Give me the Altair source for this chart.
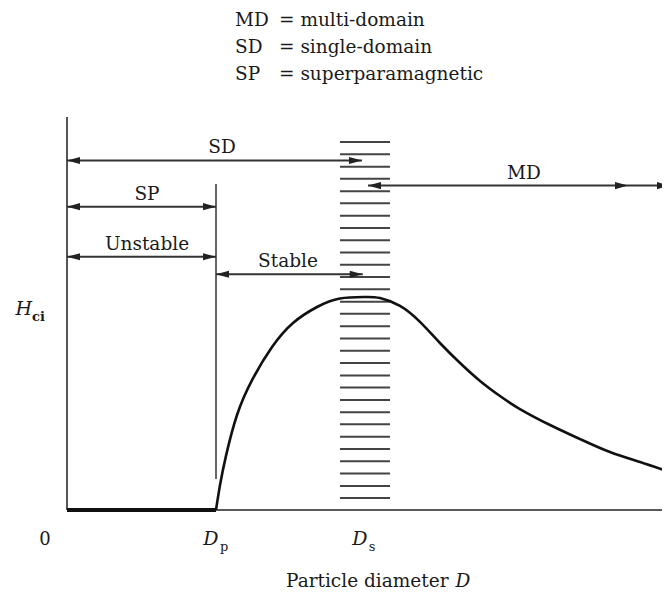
import altair as alt
import pandas as pd

# ---------------- data ----------------
# D in units where D_p = 1 and D_s = 2 ; H in units where the peak of H_ci = 1
D_p = 1.0
D_s = 2.0

flat_D = [0.0, 1.0]
flat_H = [0.0, 0.0]

rise_D = [1.0, 1.027, 1.067, 1.141, 1.242, 1.376, 1.517, 1.678, 1.832, 2.0,
          2.101, 2.235, 2.369, 2.503, 2.638, 2.772, 2.906, 3.04, 3.242, 3.443, 3.644, 3.846, 4.047]
rise_H = [0.0, 0.117, 0.254, 0.446, 0.610, 0.765, 0.878, 0.953, 0.993, 1.0,
          0.995, 0.958, 0.883, 0.784, 0.69, 0.606, 0.535, 0.474, 0.399, 0.333, 0.272, 0.225, 0.178]

axis_top = 1.845
axis_right = 4.047
dp_line_H = [0.146, 1.531]

hatch_D = [1.832, 2.168]
hatch_H = [1.728, 1.670, 1.612, 1.555, 1.497, 1.440, 1.382, 1.324, 1.267, 1.209,
           1.151, 1.094, 1.036, 0.978, 0.921, 0.863, 0.805, 0.748, 0.690, 0.632,
           0.575, 0.517, 0.459, 0.402, 0.344, 0.286, 0.229, 0.171, 0.113, 0.056]

arrow_names = ["SD", "SP", "Unstable", "Stable", "MD"]
arrow_from = [0.0, 0.0, 0.0, 1.0, 2.02]
arrow_to = [1.98, 1.0, 1.0, 1.985, 4.047]
arrow_H = [1.641, 1.424, 1.189, 1.107, 1.523]
label_D = [1.04, 0.537, 0.537, 1.483, 3.067]
extra_head_D = [3.765]
extra_head_H = [1.523]

legend_abbr = ["MD", "SD", "SP"]
legend_desc = ["= multi-domain", "= single-domain", "= superparamagnetic"]
legend_H = [2.272, 2.146, 2.019]
legend_abbr_D = 1.1275
legend_desc_D = 1.4228

# ---------------- scales ----------------
XS = alt.Scale(domain=[-59 / 149, 595 / 149], nice=False, zero=False)
YS = alt.Scale(domain=[-82 / 213, 502 / 213], nice=False, zero=False)
FONT = "DejaVu Serif"
INK = "#1a1a1a"


def X(f):
    return alt.X(f"{f}:Q", scale=XS, axis=None)


def Y(f):
    return alt.Y(f"{f}:Q", scale=YS, axis=None)


# ---------------- layers ----------------
hatch_df = pd.DataFrame({"h": hatch_H, "a": hatch_D[0], "b": hatch_D[1]})
hatch = alt.Chart(hatch_df).mark_rule(color="#444444", strokeWidth=2).encode(
    x=X("a"), x2="b", y=Y("h"))

axes_df = pd.DataFrame({"d": [0.0], "h": [0.0], "top": [axis_top], "right": [axis_right]})
yaxis = alt.Chart(axes_df).mark_rule(color="#555555", strokeWidth=2).encode(
    x=X("d"), y=Y("h"), y2="top")
xaxis = alt.Chart(axes_df).mark_rule(color="#222222", strokeWidth=1.5).encode(
    x=X("d"), x2="right", y=Y("h"))

dp_df = pd.DataFrame({"d": [D_p], "h0": [dp_line_H[0]], "h1": [dp_line_H[1]]})
dpline = alt.Chart(dp_df).mark_rule(color="#333333", strokeWidth=1.5).encode(
    x=X("d"), y=Y("h0"), y2="h1")

flat = alt.Chart(pd.DataFrame({"D": flat_D, "H": flat_H})).mark_line(
    color="#111111", strokeWidth=4).encode(x=X("D"), y=Y("H"))
rise = alt.Chart(pd.DataFrame({"D": rise_D, "H": rise_H})).mark_line(
    color="#111111", strokeWidth=2.6, interpolate="natural").encode(
    x=X("D"), y=Y("H"), order="D:Q")

arrows_df = pd.DataFrame({"name": arrow_names, "x0": arrow_from, "x1": arrow_to,
                          "h": arrow_H, "lx": label_D})
shafts = alt.Chart(arrows_df).mark_rule(color="#333333", strokeWidth=2).encode(
    x=X("x0"), x2="x1", y=Y("h"))

right_df = pd.DataFrame({"x": arrow_to + extra_head_D, "h": arrow_H + extra_head_H})
left_df = pd.DataFrame({"x": arrow_from, "h": arrow_H})
right_heads = alt.Chart(right_df).mark_point(
    shape="M0,0L-2,-0.55L-2,0.55Z", size=169, filled=True, color="#222222", opacity=1,
    strokeWidth=0).encode(x=X("x"), y=Y("h"))
left_heads = alt.Chart(left_df).mark_point(
    shape="M0,0L2,-0.55L2,0.55Z", size=169, filled=True, color="#222222", opacity=1,
    strokeWidth=0).encode(x=X("x"), y=Y("h"))

arrow_labels = alt.Chart(arrows_df).mark_text(
    font=FONT, fontSize=18.5, color=INK, align="center", baseline="alphabetic", dy=-7).encode(
    x=X("lx"), y=Y("h"), text="name:N")

leg_df = pd.DataFrame({"abbr": legend_abbr, "desc": legend_desc, "h": legend_H,
                       "xa": legend_abbr_D, "xd": legend_desc_D})
leg_abbr = alt.Chart(leg_df).mark_text(
    font=FONT, fontSize=18.5, color=INK, align="left", baseline="alphabetic").encode(
    x=X("xa"), y=Y("h"), text="abbr:N")
leg_desc = alt.Chart(leg_df).mark_text(
    font=FONT, fontSize=18.5, color=INK, align="left", baseline="alphabetic").encode(
    x=X("xd"), y=Y("h"), text="desc:N")

# axis-position labels
zero_df = pd.DataFrame({"t": ["0"], "x": [-0.1477], "h": [-0.164]})
zero_lbl = alt.Chart(zero_df).mark_text(
    font=FONT, fontSize=18, color=INK, align="center", baseline="alphabetic").encode(
    x=X("x"), y=Y("h"), text="t:N")

ital_df = pd.DataFrame({"t": ["D", "D", "H"], "x": [D_p - 0.034, D_s - 0.034, -0.29],
                        "h": [-0.164, -0.164, 0.9155]})
ital = alt.Chart(ital_df).mark_text(
    font=FONT, fontSize=19, fontStyle="italic", color=INK, align="center",
    baseline="alphabetic").encode(x=X("x"), y=Y("h"), text="t:N")

sub_df = pd.DataFrame({"t": ["p", "s"], "x": [D_p + 0.027, D_s + 0.025], "h": [-0.1925, -0.1925]})
subs = alt.Chart(sub_df).mark_text(
    font=FONT, fontSize=13, color=INK, align="left", baseline="alphabetic").encode(
    x=X("x"), y=Y("h"), text="t:N")
ci_df = pd.DataFrame({"t": ["ci"], "x": [-0.235], "h": [0.887]})
ci = alt.Chart(ci_df).mark_text(
    font=FONT, fontSize=13, fontWeight="bold", color=INK, align="left",
    baseline="alphabetic").encode(x=X("x"), y=Y("h"), text="t:N")

xt_df = pd.DataFrame({"t": ["Particle diameter"], "x": [1.47], "h": [-0.3615]})
xtitle = alt.Chart(xt_df).mark_text(
    font=FONT, fontSize=18.5, color=INK, align="left", baseline="alphabetic").encode(
    x=X("x"), y=Y("h"), text="t:N")
xd_df = pd.DataFrame({"t": ["D"], "x": [2.607], "h": [-0.3615]})
xtitle_d = alt.Chart(xd_df).mark_text(
    font=FONT, fontSize=18.5, fontStyle="italic", color=INK, align="left",
    baseline="alphabetic").encode(x=X("x"), y=Y("h"), text="t:N")

chart = alt.layer(
    hatch, yaxis, xaxis, dpline, flat, rise, shafts, right_heads, left_heads,
    arrow_labels, leg_abbr, leg_desc, zero_lbl, ital, subs, ci, xtitle, xtitle_d
).properties(
    width=654, height=584, padding=0,
    autosize=alt.AutoSizeParams(type="none"),
    background="white",
).configure_view(stroke=None)

chart.save("out.html", embed_options={"renderer": "svg", "actions": False})
